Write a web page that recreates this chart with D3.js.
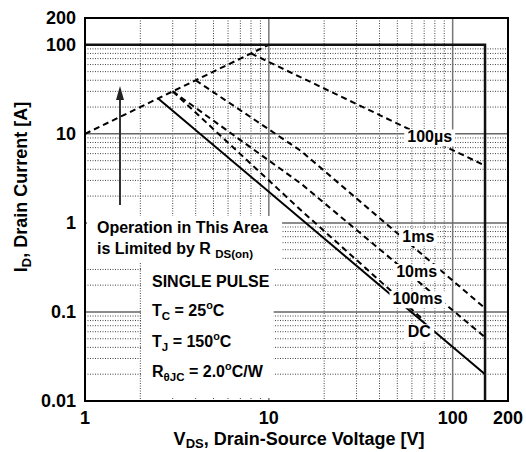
<!DOCTYPE html>
<html>
<head>
<meta charset="utf-8">
<script src="https://cdn.jsdelivr.net/npm/d3@7"></script>
<style>
    body { margin: 0; background: #fff; }
    text { font-family: "Liberation Sans", Arial, Helvetica, sans-serif; font-weight: bold; fill: #000; }
</style>
</head>
<body>
<div id="chart"></div>
<script>
// axis ticks
const xTicks = [1, 10, 100, 200];
const yTicks = [0.01, 0.1, 1, 10, 100, 200];
const xMajor = [10, 100];
const yMajor = [0.1, 1, 10];

// SOA boundaries, V (drain-source) / A (drain current)
const rdsV = [1, 10];           const rdsI = [10, 100];
const us100V = [8, 150];        const us100I = [80, 4.4];
const ms1V = [4, 15, 150];      const ms1I = [40, 6.4, 0.11];
const ms10V = [3, 15, 150];     const ms10I = [30, 2.75, 0.052];
const ms100V = [3, 15, 70];     const ms100I = [30, 1.38, 0.08];
const dcV = [2.5, 150];         const dcI = [25, 0.02];
const limitV = [1, 150, 150];   const limitI = [100, 100, 0.01];

// curve labels
const curveLabels = ["100µs", "1ms", "10ms", "100ms", "DC"];
const labelV = [75, 65, 63.7, 64.3, 65.8];
const labelI = [8.0, 0.61, 0.247, 0.122, 0.052];

const W = 526, H = 452;
const margin = {top: 18, right: 18, bottom: 51, left: 85};

const svg = d3.select("#chart").append("svg")
    .attr("width", W)
    .attr("height", H);

svg.append("rect").attr("width", W).attr("height", H).attr("fill", "#fff");

const x = d3.scaleLog().domain([1, 200]).range([margin.left, W - margin.right]);
const y = d3.scaleLog().domain([0.01, 200]).range([H - margin.bottom, margin.top]);

// minor grid: 2..9 of every full decade
const xMinor = x.ticks().filter(v => v < 100 && !xTicks.includes(v) && !xMajor.includes(v));
const yMinor = y.ticks().filter(v => v < 100 && !yTicks.includes(v));

let grid = svg.append("g");
grid.selectAll(".vmin").data(xMinor).enter().append("line")
    .attr("x1", d => x(d)).attr("x2", d => x(d))
    .attr("y1", y(200)).attr("y2", y(0.01))
    .attr("stroke", "#444").attr("stroke-width", 1).attr("stroke-dasharray", "1,1.5");
grid.selectAll(".hmin").data(yMinor).enter().append("line")
    .attr("x1", x(1)).attr("x2", x(200))
    .attr("y1", d => y(d)).attr("y2", d => y(d))
    .attr("stroke", "#444").attr("stroke-width", 1).attr("stroke-dasharray", "1,1.5");
grid.selectAll(".vmaj").data(xMajor).enter().append("line")
    .attr("x1", d => x(d)).attr("x2", d => x(d))
    .attr("y1", y(200)).attr("y2", y(0.01))
    .attr("stroke", "#777").attr("stroke-width", 1.5);
grid.selectAll(".hmaj").data(yMajor).enter().append("line")
    .attr("x1", x(1)).attr("x2", x(200))
    .attr("y1", d => y(d)).attr("y2", d => y(d))
    .attr("stroke", "#666").attr("stroke-width", 1.5);

// curves
let line = d3.line().x(d => x(d[0])).y(d => y(d[1]));
let pts = (vs, is) => vs.map((v, i) => [v, is[i]]);

let curves = [
    {p: pts(rdsV, rdsI), dash: "6,4"},
    {p: pts(us100V, us100I), dash: "6,4"},
    {p: pts(ms1V, ms1I), dash: "6,4"},
    {p: pts(ms10V, ms10I), dash: "6,4"},
    {p: pts(ms100V, ms100I), dash: "6,4"},
    {p: pts(dcV, dcI), dash: null}
];
svg.selectAll(".curve").data(curves).enter().append("path")
    .attr("d", d => line(d.p))
    .attr("fill", "none")
    .attr("stroke", "#000")
    .attr("stroke-width", 2)
    .attr("stroke-dasharray", d => d.dash);

// package limits
svg.append("path")
    .attr("d", line(pts(limitV, limitI)))
    .attr("fill", "none").attr("stroke", "#111").attr("stroke-width", 2.5);

// plot border
svg.append("rect")
    .attr("x", x(1)).attr("y", y(200))
    .attr("width", x(200) - x(1)).attr("height", y(0.01) - y(200))
    .attr("fill", "none").attr("stroke", "#000").attr("stroke-width", 2);

// curve labels with white backing
let labels = svg.append("g");
curveLabels.forEach((t, i) => {
    let g = labels.append("g");
    let txt = g.append("text")
        .attr("x", x(labelV[i])).attr("y", y(labelI[i]))
        .attr("text-anchor", "middle")
        .attr("font-size", 16)
        .text(t);
    let b = txt.node().getBBox();
    g.insert("rect", "text")
        .attr("x", b.x - 3).attr("y", b.y + 1)
        .attr("width", b.width + 6).attr("height", b.height)
        .attr("fill", "#fff");
});

// helper for sub/superscript text
function rich(parent, xx, yy, parts, size) {
    let t = parent.append("text").attr("x", xx).attr("y", yy).attr("font-size", size);
    parts.forEach(p => {
        let s = t.append("tspan").text(p.t);
        if (p.sub) s.attr("font-size", size * 0.72).attr("dy", 4);
        if (p.sup) s.attr("font-size", size * 0.68).attr("dy", -7);
        if (p.back) s.attr("dy", p.back);
    });
    return t;
}

// "Operation in this area" block
let note1 = svg.append("g");
rich(note1, 97, 233, [{t: "Operation in This Area"}], 16);
rich(note1, 97, 254, [{t: "is Limited by R "}, {t: "DS(on)", sub: true}], 16);
let b1 = note1.node().getBBox();
note1.insert("rect", "text")
    .attr("x", b1.x - 10).attr("y", b1.y - 3)
    .attr("width", b1.width + 24).attr("height", b1.height + 6)
    .attr("fill", "#fff");

// test conditions block
let note2 = svg.append("g");
rich(note2, 152, 287, [{t: "SINGLE PULSE"}], 16);
rich(note2, 152, 316, [{t: "T"}, {t: "C", sub: true}, {t: " = 25", back: -4}, {t: "o", sup: true}, {t: "C", back: 7}], 16);
rich(note2, 152, 347, [{t: "T"}, {t: "J", sub: true}, {t: " = 150", back: -4}, {t: "o", sup: true}, {t: "C", back: 7}], 16);
rich(note2, 152, 377, [{t: "R"}, {t: "θJC", sub: true}, {t: " = 2.0", back: -4}, {t: "o", sup: true}, {t: "C/W", back: 7}], 16);
let b2 = note2.node().getBBox();
note2.insert("rect", "text")
    .attr("x", b2.x - 11).attr("y", b2.y - 10)
    .attr("width", b2.width + 15).attr("height", y(0.01) - 3 - (b2.y - 10))
    .attr("fill", "#fff");

// arrow
svg.append("line")
    .attr("x1", 120).attr("x2", 120).attr("y1", 205).attr("y2", 98)
    .attr("stroke", "#333").attr("stroke-width", 2);
svg.append("path")
    .attr("d", "M120,86 L116,100 L124,100 Z")
    .attr("fill", "#222");

// tick labels
svg.selectAll(".ytick").data(yTicks).enter().append("text")
    .attr("x", x(1) - 9).attr("y", d => y(d))
    .attr("dy", "0.36em")
    .attr("text-anchor", "end")
    .attr("font-size", 18)
    .text(d => d);
svg.selectAll(".xtick").data(xTicks).enter().append("text")
    .attr("x", d => x(d)).attr("y", y(0.01) + 23)
    .attr("text-anchor", "middle")
    .attr("font-size", 18)
    .text(d => d);

// axis titles
let xt = svg.append("text")
    .attr("x", 299).attr("y", 445)
    .attr("text-anchor", "middle")
    .attr("font-size", 18);
xt.append("tspan").text("V");
xt.append("tspan").attr("font-size", 13).attr("dy", 3).text("DS");
xt.append("tspan").attr("dy", -3).text(", Drain-Source Voltage [V]");

rich(svg, 0, 0, [{t: "I"}, {t: "D", sub: true}, {t: ", Drain Current [A]", back: -4}], 18)
    .attr("text-anchor", "middle")
    .attr("transform", "translate(27,187) rotate(-90)");
</script>
</body>
</html>
